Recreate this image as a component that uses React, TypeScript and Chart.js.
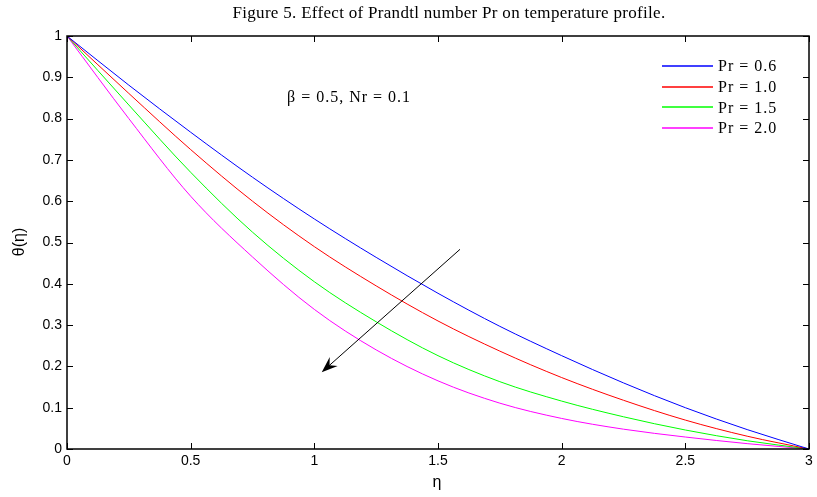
import React, { useEffect, useRef } from "react";
import { Chart, registerables } from "chart.js";

Chart.register(...registerables);

const etaValues = [0, 0.25, 0.5, 0.75, 1, 1.25, 1.5, 1.75, 2, 2.25, 2.5, 2.75, 3];
const pr06 = [1, 0.881, 0.767, 0.658, 0.557, 0.464, 0.377, 0.297, 0.226, 0.16, 0.1, 0.047, 0];
const pr10 = [1, 0.861, 0.725, 0.6, 0.49, 0.395, 0.31, 0.237, 0.173, 0.118, 0.07, 0.031, 0];
const pr15 = [1, 0.833, 0.67, 0.525, 0.405, 0.308, 0.226, 0.163, 0.116, 0.078, 0.046, 0.02, 0];
const pr20 = [1, 0.8, 0.612, 0.465, 0.338, 0.24, 0.165, 0.111, 0.074, 0.048, 0.029, 0.013, 0];

const seriesLabels = ["Pr = 0.6", "Pr = 1.0", "Pr = 1.5", "Pr = 2.0"];
const seriesColors = ["#0000ff", "#ff0000", "#00ff00", "#ff00ff"];
const seriesValues = [pr06, pr10, pr15, pr20];

const xTicks = [0, 0.5, 1, 1.5, 2, 2.5, 3];
const yTicks = [0, 0.1, 0.2, 0.3, 0.4, 0.5, 0.6, 0.7, 0.8, 0.9, 1];

const titleText = "Figure 5. Effect of Prandtl number Pr on temperature profile.";
const annotationText = "\u03b2 = 0.5, Nr = 0.1";
const arrowStart = { x: 1.589, y: 0.4835 };
const arrowEnd = { x: 1.03, y: 0.186 };

const decorPlugin = {
  id: "decor",
  afterDraw(chart: any) {
    const ctx = chart.ctx as any;
    const { left, right, top, bottom } = chart.chartArea;
    const xs = chart.scales.x;
    const ys = chart.scales.y;
    ctx.save();
    // box
    ctx.strokeStyle = "#000";
    ctx.lineWidth = 1.5;
    ctx.strokeRect(left, top, right - left, bottom - top);
    // inward ticks
    ctx.lineWidth = 1;
    const tl = 6;
    ctx.beginPath();
    xTicks.forEach((v) => {
      const px = Math.round(xs.getPixelForValue(v)) + 0.5;
      ctx.moveTo(px, bottom);
      ctx.lineTo(px, bottom - tl);
      ctx.moveTo(px, top);
      ctx.lineTo(px, top + tl);
    });
    yTicks.forEach((v) => {
      const py = Math.round(ys.getPixelForValue(v)) + 0.5;
      ctx.moveTo(left, py);
      ctx.lineTo(left + tl, py);
      ctx.moveTo(right, py);
      ctx.lineTo(right - tl, py);
    });
    ctx.stroke();

    // title
    ctx.fillStyle = "#000";
    ctx.font = '17px "Liberation Serif", serif';
    ctx.letterSpacing = "0.3px";
    ctx.textAlign = "center";
    ctx.textBaseline = "middle";
    ctx.fillText(titleText, 449, 14);
    ctx.letterSpacing = "0px";

    // axis labels
    ctx.font = '16px "Liberation Sans", sans-serif';
    ctx.fillText("\u03b7", 437, 483);
    ctx.save();
    ctx.translate(20, 242);
    ctx.rotate(-Math.PI / 2);
    ctx.fillText("\u03b8(\u03b7)", 0, 0);
    ctx.restore();

    // annotation
    ctx.font = '16px "Liberation Serif", serif';
    ctx.letterSpacing = "1px";
    ctx.textAlign = "left";
    ctx.fillText(annotationText, 287, 98);

    // legend
    seriesLabels.forEach((lab, i) => {
      const y = 66 + i * 20.7;
      ctx.strokeStyle = seriesColors[i];
      ctx.lineWidth = 1.5;
      ctx.beginPath();
      ctx.moveTo(662, Math.round(y));
      ctx.lineTo(713, Math.round(y));
      ctx.stroke();
      ctx.fillStyle = "#000";
      ctx.fillText(lab, 718, y + 1);
    });
    ctx.letterSpacing = "0px";

    // arrow
    const sx = xs.getPixelForValue(arrowStart.x);
    const sy = ys.getPixelForValue(arrowStart.y);
    const ex = xs.getPixelForValue(arrowEnd.x);
    const ey = ys.getPixelForValue(arrowEnd.y);
    const ang = Math.atan2(ey - sy, ex - sx);
    const headLen = 16;
    const headW = 6;
    ctx.strokeStyle = "#000";
    ctx.lineWidth = 1;
    ctx.beginPath();
    ctx.moveTo(sx, sy);
    ctx.lineTo(ex - Math.cos(ang) * headLen * 0.6, ey - Math.sin(ang) * headLen * 0.6);
    ctx.stroke();
    const bx = ex - Math.cos(ang) * headLen;
    const by = ey - Math.sin(ang) * headLen;
    const nx = -Math.sin(ang);
    const ny = Math.cos(ang);
    const mx = ex - Math.cos(ang) * headLen * 0.65;
    const my = ey - Math.sin(ang) * headLen * 0.65;
    ctx.fillStyle = "#000";
    ctx.beginPath();
    ctx.moveTo(ex, ey);
    ctx.lineTo(bx + nx * headW, by + ny * headW);
    ctx.lineTo(mx, my);
    ctx.lineTo(bx - nx * headW, by - ny * headW);
    ctx.closePath();
    ctx.fill();
    ctx.restore();
  },
};

export default function App() {
  const ref = useRef<HTMLCanvasElement | null>(null);
  useEffect(() => {
    if (!ref.current) return;
    const chart = new Chart(ref.current, {
      type: "line",
      data: {
        datasets: seriesValues.map((vals, i) => ({
          label: seriesLabels[i],
          data: etaValues.map((x, j) => ({ x, y: vals[j] })),
          borderColor: seriesColors[i],
          backgroundColor: seriesColors[i],
          borderWidth: 1,
          pointRadius: 0,
          fill: false,
          cubicInterpolationMode: "monotone" as const,
        })),
      },
      options: {
        responsive: false,
        animation: false,
        layout: { padding: { left: 0, right: 8, top: 36, bottom: 0 } },
        plugins: {
          legend: { display: false },
          title: { display: false },
          tooltip: { enabled: false },
        },
        scales: {
          x: {
            type: "linear",
            min: 0,
            max: 3,
            grid: { display: false, drawTicks: false },
            border: { display: false },
            ticks: {
              stepSize: 0.5,
              padding: 4,
              color: "#000",
              font: { family: '"Liberation Sans", sans-serif', size: 14 },
              maxRotation: 0,
              callback: (v: any) => String(Number(v)),
            },
            afterFit: (s: any) => {
              s.height = 48;
            },
          },
          y: {
            type: "linear",
            min: 0,
            max: 1,
            grid: { display: false, drawTicks: false },
            border: { display: false },
            ticks: {
              stepSize: 0.1,
              padding: 5,
              color: "#000",
              font: { family: '"Liberation Sans", sans-serif', size: 14 },
              callback: (v: any) => String(Math.round(Number(v) * 10) / 10),
            },
            afterFit: (s: any) => {
              s.width = 67;
            },
          },
        },
      },
      plugins: [decorPlugin],
    });
    return () => chart.destroy();
  }, []);
  return (
    <div style={{ position: "absolute", left: 0, top: 0, width: 817, height: 497, background: "#fff" }}>
      <canvas ref={ref} width={817} height={497} style={{ display: "block" }} />
    </div>
  );
}
